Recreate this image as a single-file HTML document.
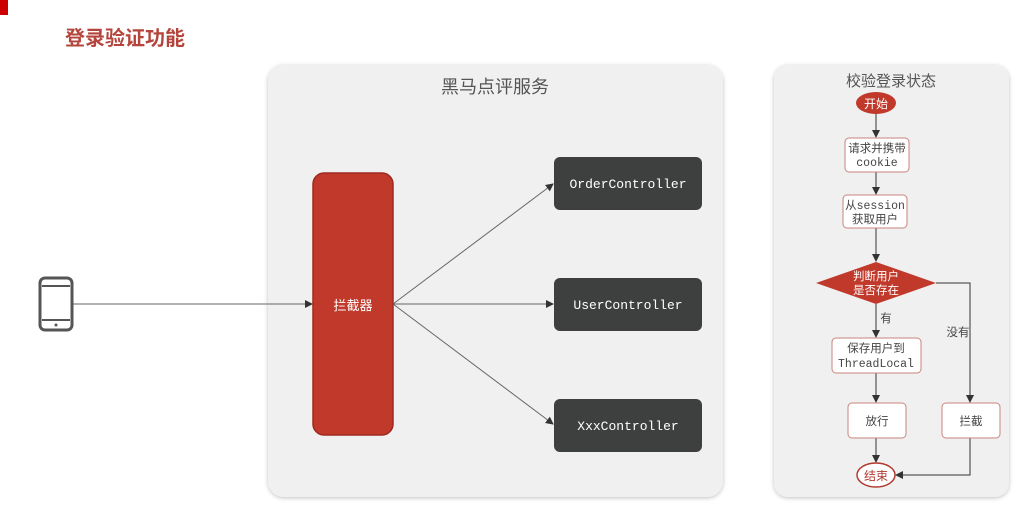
<!DOCTYPE html>
<html><head><meta charset="utf-8"><style>
body{margin:0;background:#fff;width:1024px;height:507px;overflow:hidden}
text{font-family:"Liberation Sans","Noto Sans CJK SC",sans-serif}
.m{font-family:"Liberation Mono","Noto Sans CJK SC",monospace}
</style></head><body>
<svg width="1024" height="507" viewBox="0 0 1024 507" xmlns="http://www.w3.org/2000/svg">
<defs>
<marker id="a" markerWidth="8" markerHeight="8" refX="7" refY="4" orient="auto" markerUnits="userSpaceOnUse"><path d="M0,0 L8,4 L0,8 z" fill="#333"/></marker>
<filter id="s" x="-5%" y="-5%" width="110%" height="110%"><feDropShadow dx="0" dy="1" stdDeviation="2" flood-color="#000" flood-opacity="0.25"/></filter>
</defs>
<rect x="0" y="0" width="8" height="15" fill="#c00"/>
<text x="65" y="45" font-size="20" font-weight="bold" fill="#b4443c">登录验证功能</text>

<rect x="268" y="65" width="455" height="432" rx="16" fill="#f0f0f0" filter="url(#s)"/>
<text x="495" y="93" font-size="18" fill="#555" text-anchor="middle">黑马点评服务</text>
<rect x="313" y="173" width="80" height="262" rx="11" fill="#c0392b" stroke="#9e2a1f" stroke-width="1.5"/>
<text x="353" y="310" font-size="13" fill="#fff" text-anchor="middle">拦截器</text>
<g fill="#3e4040">
<rect x="554" y="157" width="148" height="53" rx="6"/>
<rect x="554" y="278" width="148" height="53" rx="6"/>
<rect x="554" y="399" width="148" height="53" rx="6"/>
</g>
<g class="m" font-size="13" fill="#fff" text-anchor="middle">
<text x="628" y="188" class="m">OrderController</text>
<text x="628" y="309" class="m">UserController</text>
<text x="628" y="430" class="m">XxxController</text>
</g>
<g stroke="#666" stroke-width="1" fill="none" marker-end="url(#a)">
<line x1="72" y1="304" x2="312" y2="304"/>
<line x1="393" y1="304" x2="553" y2="184"/>
<line x1="393" y1="304" x2="553" y2="304"/>
<line x1="393" y1="304" x2="553" y2="424"/>
</g>
<rect x="40" y="278" width="32" height="52" rx="5" fill="#fff" stroke="#555" stroke-width="3"/>
<line x1="42" y1="286" x2="70" y2="286" stroke="#555" stroke-width="2"/>
<line x1="42" y1="320" x2="70" y2="320" stroke="#555" stroke-width="2"/>
<circle cx="56" cy="325" r="1.5" fill="#555"/>

<rect x="774" y="65" width="235" height="432" rx="14" fill="#f0f0f0" filter="url(#s)"/>
<text x="891" y="86" font-size="15" fill="#555" text-anchor="middle">校验登录状态</text>
<g stroke="#333" stroke-width="1" fill="none" marker-end="url(#a)">
<line x1="876" y1="114" x2="876" y2="137"/>
<line x1="876" y1="172" x2="876" y2="194"/>
<line x1="876" y1="228" x2="876" y2="261"/>
<line x1="876" y1="304" x2="876" y2="337"/>
<line x1="876" y1="373" x2="876" y2="402"/>
<line x1="876" y1="438" x2="876" y2="462"/>
<polyline points="936,283 970,283 970,402"/>
<polyline points="970,438 970,475 896,475"/>
</g>
<ellipse cx="876" cy="103" rx="20" ry="11" fill="#c0392b"/>
<text x="876" y="108" font-size="12" fill="#fff" text-anchor="middle">开始</text>
<g fill="#fff" stroke="#c9837c" stroke-width="1">
<rect x="845" y="138" width="64" height="34" rx="4"/>
<rect x="843" y="195" width="64" height="33" rx="4"/>
<rect x="832" y="338" width="89" height="35" rx="4"/>
<rect x="848" y="403" width="58" height="35" rx="4"/>
<rect x="942" y="403" width="58" height="35" rx="4"/>
</g>
<polygon points="816,283 876,262 936,283 876,304" fill="#c0392b"/>
<ellipse cx="876" cy="475" rx="19" ry="12" fill="#fff" stroke="#b03a30" stroke-width="1.5"/>
<g font-size="11.5" fill="#444" text-anchor="middle">
<text x="877" y="152">请求并携带</text>
<text x="877" y="166" class="m">cookie</text>
<text x="875" y="209" class="m">从session</text>
<text x="875" y="223">获取用户</text>
<text x="876" y="352">保存用户到</text>
<text x="876" y="367" class="m">ThreadLocal</text>
<text x="877" y="425">放行</text>
<text x="971" y="425">拦截</text>
<text x="886" y="322">有</text>
<text x="958" y="336">没有</text>
</g>
<text x="876" y="280" font-size="11.5" fill="#fff" text-anchor="middle">判断用户</text>
<text x="876" y="294" font-size="11.5" fill="#fff" text-anchor="middle">是否存在</text>
<text x="876" y="480" font-size="12" fill="#b03a30" text-anchor="middle">结束</text>
</svg>
</body></html>
